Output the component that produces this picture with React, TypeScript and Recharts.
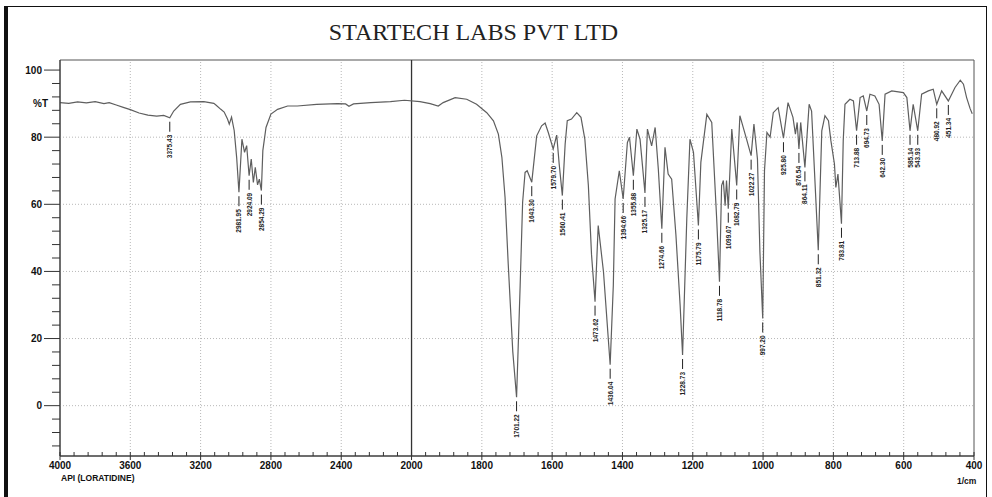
import React from 'react';
import {
  ComposedChart, Line, Scatter, XAxis, YAxis, ReferenceLine, ReferenceArea
} from 'recharts';

// wavenumber (1/cm) and %T
const spectrumWn = [
  4000, 3950, 3900, 3850, 3800, 3750, 3720, 3680, 3640, 3600, 3550, 3500, 3450, 3410, 3375.43, 3353, 3315, 3258, 3182, 3125,
  3113, 3085, 3066, 3047, 3037, 3024, 3009, 2995, 2981.95, 2965, 2950, 2938, 2924.09, 2912, 2900, 2889, 2876, 2866, 2854.29,
  2846, 2828, 2800, 2762, 2705, 2650, 2540, 2422, 2375, 2356, 2330, 2232, 2120, 2040,
  1976, 1947, 1924, 1910, 1876, 1843, 1815, 1786, 1767, 1753, 1743, 1734, 1725, 1712, 1701.22, 1691, 1684, 1677, 1671, 1658,
  1644, 1630, 1620, 1611, 1597, 1587, 1580, 1571, 1563, 1557, 1545, 1530, 1518, 1507, 1497, 1488, 1478, 1469, 1454, 1435,
  1426, 1421, 1409, 1398, 1386, 1380, 1369, 1359, 1350, 1336, 1329, 1317, 1307, 1298, 1288, 1279, 1270, 1260, 1248, 1236,
  1229, 1217, 1208, 1198, 1184, 1177, 1160, 1146, 1132, 1124, 1118, 1113, 1108, 1104, 1099, 1089, 1075, 1066, 1047, 1034,
  1026, 1016, 1009, 1001, 996, 989, 980, 971, 957, 942, 929, 915, 908, 903, 898, 893, 881, 869, 862, 852, 843, 833, 824,
  814, 807, 797, 793, 787, 777, 772, 767, 753, 743, 734, 724, 715, 705, 696, 682, 670, 661, 653, 634, 601, 591, 582, 573,
  560, 549, 530, 516, 506, 492, 473, 454, 439, 430, 421, 411, 405,
];
const spectrumT = [
  90.3, 90.1, 90.5, 90.2, 90.6, 90.0, 90.3, 89.6, 88.9, 88.2, 87.2, 86.6, 86.3, 86.5, 85.8, 87.8, 89.8, 90.5, 90.6, 90.1,
  89.6, 88.3, 87.5, 85.4, 83.9, 86.0, 82.0, 74.0, 63.6, 79.4, 75.5, 77.5, 68.5, 73.5, 66.5, 71.0, 65.8, 67.5, 64.1,
  76.0, 82.9, 86.9, 88.3, 89.3, 89.3, 89.8, 90.0, 89.9, 89.2, 89.9, 90.3, 90.6, 91.0,
  90.6, 90.0, 89.3, 90.3, 91.8, 91.3, 89.8, 87.3, 84.9, 80.9, 74.0, 62.1, 42.3, 16.1, 2.5, 35.9, 60.6, 69.5, 70.0, 66.6,
  80.4, 83.4, 84.2, 81.4, 76.5, 80.6, 72.0, 62.6, 78.0, 84.9, 85.4, 87.3, 85.9, 79.4, 65.6, 45.0, 31.0, 53.7, 39.9, 12.2,
  35.9, 61.6, 70.0, 61.6, 78.4, 80.0, 68.5, 82.4, 79.4, 63.4, 82.4, 77.4, 82.9, 70.5, 52.7, 77.0, 69.0, 67.5, 51.0, 30.0,
  15.1, 55.7, 79.4, 75.5, 53.7, 72.5, 86.8, 84.4, 55.7, 36.9, 65.6, 67.1, 59.6, 67.1, 58.7, 82.4, 65.6, 86.4, 79.4, 74.5,
  83.9, 73.5, 45.8, 26.0, 70.0, 81.4, 80.0, 87.3, 88.8, 79.7, 90.3, 85.9, 80.9, 84.4, 76.5, 84.4, 71.0, 89.8, 87.8, 66.0, 46.3, 81.9, 86.4,
  84.9, 78.9, 72.0, 65.0, 69.0, 54.2, 78.9, 89.8, 91.3, 90.8, 81.9, 91.8, 92.3, 87.8, 92.8, 92.3, 89.8, 78.9, 92.8, 93.8, 93.3, 91.8, 81.9, 89.8,
  81.9, 92.8, 93.8, 94.3, 89.8, 93.8, 90.8, 94.8, 97.0, 95.8, 91.8, 88.5, 87.0,
];

// annotated peaks: position on the curve and the printed value
const peakWn = [
  3375.43, 2981.95, 2924.09, 2854.29, 1701.22, 1658, 1597, 1571, 1478, 1435, 1398, 1369, 1336, 1288, 1229, 1184, 1124,
  1099, 1075, 1034, 1001, 942, 898, 881, 843, 777, 734, 705, 661, 582, 560, 506, 473,
];
const peakText = [
  '3375.43', '2981.95', '2924.09', '2854.29', '1701.22', '1643.30', '1579.70', '1560.41', '1473.62', '1436.04', '1394.66',
  '1355.88', '1325.17', '1274.66', '1228.73', '1175.79', '1118.78', '1099.07', '1082.79', '1022.27', '997.20', '925.80',
  '876.54', '864.11', '851.32', '783.81', '713.88', '694.73', '642.30', '585.14', '543.93', '480.92', '451.34',
];

const xMajorLabels = [4000, 3600, 3200, 2800, 2400, 2000, 1800, 1600, 1400, 1200, 1000, 800, 600, 400];
const yMajorLabels = [0, 20, 40, 60, 80, 100];

// the chart is printed with half scale above 2000 1/cm
const toU = (wn: number) => (wn > 2000 ? 2000 + (wn - 2000) / 2 : wn);
const fromU = (u: number) => (u > 2000 ? 2000 + (u - 2000) * 2 : u);

const spectrumRows = spectrumWn.map((wn, i) => ({ u: toU(wn), t: spectrumT[i] }));
const peakRows = peakWn.map((wn, i) => ({ u: toU(wn), t: spectrumT[spectrumWn.indexOf(wn)], label: peakText[i] }));

const xTicks: number[] = [];
for (let u = 400; u <= 3000; u += 40) xTicks.push(u);
const xMajorU = xMajorLabels.map(toU);

const yTicks: number[] = [];
for (let v = -12; v <= 100; v += 4) yTicks.push(v);
yTicks.push(90);
yTicks.sort((a, b) => a - b);

const FONT = "'Liberation Sans', Arial, sans-serif";

const XTick = (props: any) => {
  const { x, y, payload } = props;
  const u = payload.value;
  const major = xMajorU.includes(u);
  return (
    <g>
      <line x1={x} x2={x} y1={y - 4} y2={major ? y + 4 : y} stroke="#333" strokeWidth={1} />
      {major && (
        <text x={x} y={y + 13} textAnchor="middle" fontSize={10} fontWeight={700} fontFamily={FONT} fill="#111">
          {fromU(u)}
        </text>
      )}
    </g>
  );
};

const YTick = (props: any) => {
  const { x, y, payload } = props;
  const v = payload.value;
  if (v === 90) {
    return (
      <text x={x - 27} y={y + 3.5} fontSize={10} fontWeight={700} fontFamily={FONT} fill="#111">%T</text>
    );
  }
  const major = yMajorLabels.includes(v);
  return (
    <g>
      <line x1={major ? x - 16 : x - 8} x2={x} y1={y} y2={y} stroke="#333" strokeWidth={1} />
      {major && (
        <text x={x - 18} y={y + 3.5} textAnchor="end" fontSize={10} fontWeight={700} fontFamily={FONT} fill="#111">
          {v}
        </text>
      )}
    </g>
  );
};

const PeakMark = (props: any) => {
  const { cx, cy, payload } = props;
  if (cx == null || cy == null) return null;
  const top = cy + 17;
  return (
    <g>
      <line x1={cx} x2={cx} y1={cy + 4} y2={cy + 14} stroke="#222" strokeWidth={1} />
      <text
        x={cx}
        y={top}
        transform={`rotate(-90 ${cx} ${top})`}
        textAnchor="end"
        dominantBaseline="central"
        fontSize={6.5}
        fontWeight={700}
        fontFamily={FONT}
        fill="#222"
      >
        {payload.label}
      </text>
    </g>
  );
};

export default function App() {
  return (
    <div style={{ position: 'absolute', left: 0, top: 0, width: 992, height: 497, background: '#fff', overflow: 'hidden' }}>
      <div
        style={{
          position: 'absolute', left: 4, top: 6, width: 978, height: 491,
          borderTop: '1.5px solid #111', borderRight: '1.5px solid #111', borderLeft: '4px solid #111',
        }}
      />
      <div
        style={{
          position: 'absolute', left: 0, top: 18, width: 947, textAlign: 'center',
          fontFamily: "'Liberation Serif', 'Times New Roman', serif", fontSize: 24, color: '#222', lineHeight: '28px',
        }}
      >
        STARTECH LABS PVT LTD
      </div>
      <div style={{ position: 'absolute', left: 0, top: 0 }}>
        <ComposedChart width={992} height={497} margin={{ top: 60, right: 18, bottom: 11, left: 20 }}>
          <XAxis
            type="number"
            dataKey="u"
            domain={[400, 3000]}
            reversed
            allowDataOverflow
            ticks={xTicks}
            interval={0}
            tickSize={0}
            tickMargin={0}
            tick={<XTick />}
            tickLine={false}
            axisLine={{ stroke: '#333' }}
            height={30}
          />
          <YAxis
            type="number"
            domain={[-15, 103]}
            allowDataOverflow
            ticks={yTicks}
            interval={0}
            tickSize={0}
            tickMargin={0}
            tick={<YTick />}
            tickLine={false}
            axisLine={{ stroke: '#333' }}
            width={40}
          />
          {yMajorLabels.filter(v => v < 100).map(v => (
            <ReferenceLine key={`h${v}`} y={v} stroke="#b8b8b8" strokeDasharray="1 2" />
          ))}
          {xMajorU.filter(u => u !== 2000 && u !== 400 && u !== 3000).map(u => (
            <ReferenceLine key={`v${u}`} x={u} stroke="#b8b8b8" strokeDasharray="1 2" />
          ))}
          <ReferenceArea x1={400} x2={3000} y1={-15} y2={103} fill="none" fillOpacity={0} stroke="#555" strokeWidth={1} />
          <ReferenceLine x={2000} stroke="#333" strokeWidth={1.3} />
          <Line
            data={spectrumRows}
            dataKey="t"
            type="linear"
            stroke="#5e5e5e"
            strokeWidth={1.2}
            dot={false}
            isAnimationActive={false}
          />
          <Scatter data={peakRows} dataKey="t" shape={PeakMark} isAnimationActive={false} />
        </ComposedChart>
      </div>
      <div style={{ position: 'absolute', left: 61, top: 473, fontFamily: FONT, fontWeight: 700, fontSize: 8.5, lineHeight: '10px', color: '#111' }}>
        API (LORATIDINE)
      </div>
      <div style={{ position: 'absolute', left: 957, top: 476, fontFamily: FONT, fontWeight: 700, fontSize: 8.5, lineHeight: '10px', color: '#111' }}>
        1/cm
      </div>
    </div>
  );
}
